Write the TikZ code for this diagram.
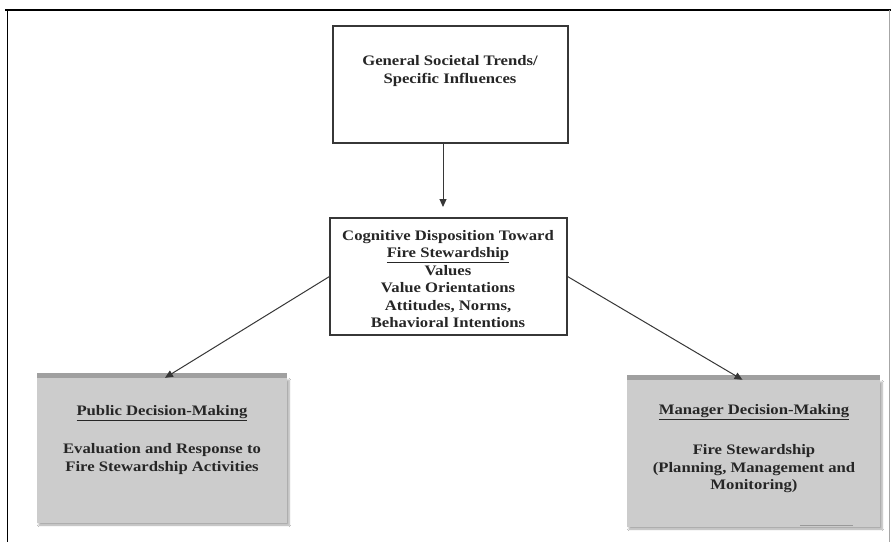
\documentclass[tikz,border=0pt]{standalone}
\usepackage{fontspec}
\setmainfont{Liberation Serif}[FakeStretch=1.15]
\usetikzlibrary{arrows.meta,shadows.blur}
\definecolor{boxgray}{RGB}{204,204,204}
\definecolor{topgray}{RGB}{160,160,160}
\definecolor{linegray}{RGB}{55,55,55}
\begin{document}
\begin{tikzpicture}[x=1pt,y=-1pt,
  whitebox/.style={draw=linegray, line width=1.1pt, fill=white, inner sep=0pt},
  graybox/.style={fill=boxgray, inner sep=0pt, blur shadow={shadow xshift=2pt, shadow yshift=-2pt, shadow blur steps=6, shadow opacity=35}},
  label/.style={font=\fontsize{14.5}{17.5}\selectfont\bfseries, align=center, inner sep=0pt, text=black!85},
  arr/.style={draw=linegray, line width=1pt, -{Triangle[length=8pt,width=7pt]}}]
\useasboundingbox (0,0) rectangle (891,542);
\fill[white] (0,0) rectangle (891,542);
% frame
\draw[black, line width=1.4pt] (5,10) -- (891,10);
\draw[black, line width=1pt] (7,10) -- (7,542);
\draw[gray!70, line width=1pt] (889,10) -- (889,542);
% boxes
\node[whitebox, minimum width=235pt, minimum height=117pt] (top) at (450.5,84.5) {};
\node[whitebox, minimum width=237pt, minimum height=117pt] (mid) at (448.5,276.5) {};
\node[graybox, minimum width=250pt, minimum height=145pt] (left) at (162,450.5) {};
\node[graybox, minimum width=253pt, minimum height=147pt] (right) at (753.5,453.5) {};
\fill[topgray] (left.north west) rectangle ([yshift=5pt]left.north east);
\fill[topgray] (right.north west) rectangle ([yshift=5pt]right.north east);
\draw[gray!80, line width=1pt] (800,525) -- (853,525);
% texts
\node[label] (toptext) at (450,71) {General Societal Trends/\\Specific Influences};
\node[label] (midtext) at (448,279) {Cognitive Disposition Toward\\\underline{Fire Stewardship}\\Values\\Value Orientations\\Attitudes, Norms,\\Behavioral Intentions};
\node[label] (lefttitle) at (162,413) {\underline{Public Decision-Making}};
\node[label] (lefttext) at (162,459) {Evaluation and Response to\\Fire Stewardship Activities};
\node[label] (righttitle) at (754,412) {\underline{Manager Decision-Making}};
\node[label] (righttext) at (754,469) {Fire Stewardship\\(Planning, Management and\\Monitoring)};
% connectors
\coordinate (atip) at (443,207);
\draw[arr] (top.south -| atip) -- (atip);
\draw[arr] (mid.west) -- ([xshift=3pt]left.north);
\draw[arr] (mid.east) -- ([xshift=-11pt]right.north);
\end{tikzpicture}
\end{document}
